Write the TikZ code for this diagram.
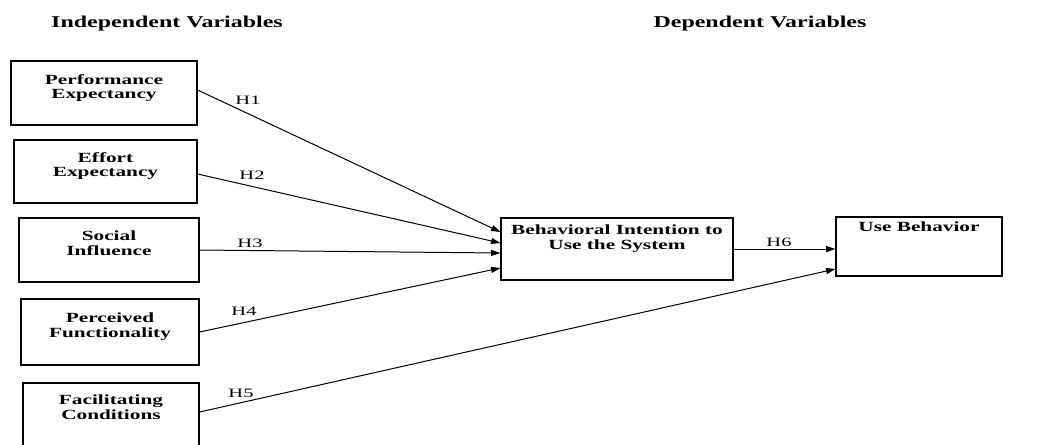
\documentclass[tikz,border=0pt]{standalone}
\usepackage{fontspec}
\setmainfont{Liberation Serif}
\newfontfamily\hdfont[FakeStretch=1.45]{Liberation Serif}
\newfontfamily\bxfont[FakeStretch=1.52]{Liberation Serif}
\newfontfamily\hlfont[FakeStretch=1.6]{Liberation Serif}
\usetikzlibrary{arrows.meta}
\begin{document}
\begin{tikzpicture}[x=0.75pt,y=-0.75pt,
  vbox/.style={draw,line width=0.9pt,rectangle,inner sep=0pt},
  vtext/.style={anchor=north,align=center,inner sep=0pt,font=\bxfont\bfseries\fontsize{10.5}{11}\selectfont},
  head/.style={inner sep=0pt,font=\hdfont\bfseries\fontsize{12.4}{14}\selectfont},
  hlab/.style={inner sep=0pt,font=\hlfont\fontsize{9.6}{10}\selectfont},
  arr/.style={line width=0.75pt,-{Triangle[length=7pt,width=4.5pt]}}]
\useasboundingbox (0,0) rectangle (1043,444);
\clip (0,0) rectangle (1043,444);
\fill[white] (0,0) rectangle (1043,444);

\node[head] (hind) at (167,24) {Independent Variables};
\node[head] (hdep) at (760,24) {Dependent Variables};

\node[vbox,minimum width=139.5pt,minimum height=48pt] (b1) at (104,93) {};
\node[vbox,minimum width=137.25pt,minimum height=47.25pt] (b2) at (105.5,171.5) {};
\node[vbox,minimum width=135pt,minimum height=48pt] (b3) at (109,250) {};
\node[vbox,minimum width=133.5pt,minimum height=49.5pt] (b4) at (110,332) {};
\node[vbox,minimum width=132pt,minimum height=54pt] (b5) at (111,419) {};
\node[vbox,minimum width=174pt,minimum height=46.5pt] (bi) at (617,249) {};
\node[vbox,minimum width=124.5pt,minimum height=44.25pt] (ub) at (919,246.5) {};

\node[vtext] (t1) at (104,74) {Performance\\Expectancy};
\node[vtext] (t2) at (105.5,152) {Effort\\Expectancy};
\node[vtext] (t3) at (109,231) {Social\\Influence};
\node[vtext] (t4) at (110,313) {Perceived\\Functionality};
\node[vtext] (t5) at (111,395) {Facilitating\\Conditions};
\node[vtext] (t6) at (617,225) {Behavioral Intention to\\Use the System};
\node[vtext] (t7) at (919,222) {Use Behavior};

\draw[arr] (b1.east |- 0,90) -- (bi.west |- 0,232);
\draw[arr] (b2.east |- 0,174) -- (bi.west |- 0,243);
\draw[arr] (b3.east |- 0,250) -- (bi.west |- 0,253);
\draw[arr] (b4.east |- 0,332) -- (bi.west |- 0,268);
\draw[arr] (b5.east |- 0,412) -- (ub.west |- 0,269);
\draw[arr] (bi.east |- 0,249) -- (ub.west |- 0,249);

\node[hlab] (h1) at (248,100) {H1};
\node[hlab] (h2) at (252,175) {H2};
\node[hlab] (h3) at (250,243) {H3};
\node[hlab] (h4) at (244,311) {H4};
\node[hlab] (h5) at (241,393) {H5};
\node[hlab] (h6) at (779,242) {H6};
\end{tikzpicture}
\end{document}
